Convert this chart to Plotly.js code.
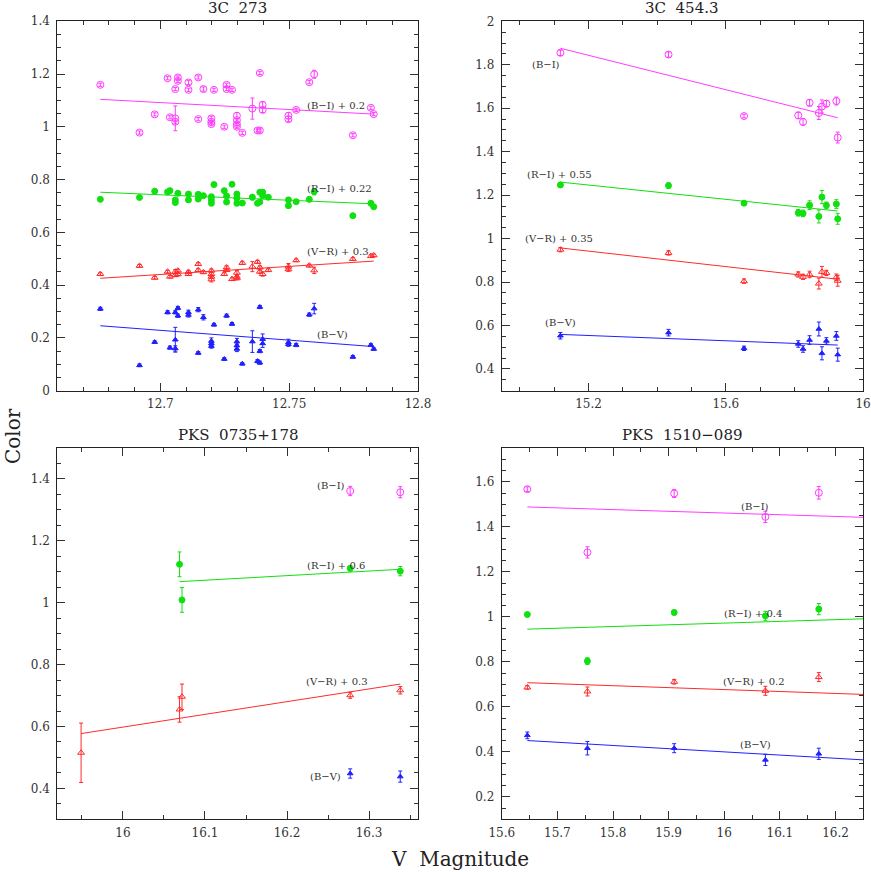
<!DOCTYPE html>
<html><head><meta charset="utf-8">
<script src="https://cdn.plot.ly/plotly-3.0.1.min.js"></script>
<style>html,body{margin:0;padding:0;background:#fff}</style>
</head><body><div id="chart" style="width:871px;height:872px"></div>
<script>
// ---------- Panel 1: 3C 273 ----------
const p1_BI_x = [12.6767,12.6919,12.6978,12.7028,12.7037,12.7058,12.7058,12.7058,12.7068,12.7068,12.7109,12.7109,12.7147,12.7147,12.7167,12.7198,12.7198,12.7198,12.7208,12.7248,12.7257,12.7257,12.7278,12.7297,12.7297,12.7297,12.7297,12.7318,12.7357,12.7377,12.7386,12.7386,12.7397,12.7397,12.7497,12.7497,12.7527,12.7578,12.7597,12.7747,12.7817,12.7828];
const p1_BI_y = [1.159,0.978,1.047,1.184,1.036,1.143,1.032,1.019,1.187,1.174,1.168,1.140,1.187,1.029,1.143,1.032,1.019,1.010,1.140,1.000,1.159,1.143,1.140,1.042,1.025,1.010,1.000,0.977,1.069,0.986,0.986,1.204,1.083,1.064,1.042,1.029,1.064,1.169,1.199,0.968,1.072,1.048];
const p1_BI_e = [0.006,0.006,0.006,0.006,0.006,0.006,0.047,0.006,0.006,0.006,0.008,0.006,0.006,0.006,0.008,0.008,0.006,0.006,0.006,0.006,0.006,0.006,0.006,0.012,0.006,0.006,0.006,0.006,0.040,0.006,0.006,0.006,0.012,0.010,0.012,0.010,0.006,0.006,0.015,0.006,0.006,0.006];
const p1_RI_x = [12.6767,12.6919,12.6978,12.7028,12.7037,12.7058,12.7058,12.7068,12.7109,12.7109,12.7147,12.7147,12.7167,12.7198,12.7198,12.7198,12.7208,12.7248,12.7257,12.7257,12.7278,12.7297,12.7297,12.7297,12.7318,12.7357,12.7377,12.7386,12.7386,12.7397,12.7397,12.7419,12.7497,12.7497,12.7527,12.7578,12.7597,12.7747,12.7817,12.7828];
const p1_RI_y = [0.725,0.732,0.756,0.753,0.758,0.723,0.713,0.748,0.745,0.723,0.744,0.726,0.739,0.735,0.723,0.710,0.781,0.758,0.738,0.715,0.782,0.745,0.729,0.710,0.711,0.733,0.710,0.715,0.752,0.752,0.739,0.733,0.723,0.701,0.716,0.725,0.754,0.663,0.710,0.697];
const p1_RI_e = [0.005,0.005,0.005,0.005,0.005,0.006,0.006,0.005,0.006,0.005,0.006,0.005,0.005,0.008,0.006,0.006,0.005,0.005,0.005,0.005,0.005,0.010,0.006,0.006,0.005,0.010,0.005,0.005,0.006,0.008,0.006,0.005,0.008,0.008,0.005,0.005,0.012,0.005,0.005,0.005];
const p1_VR_x = [12.6767,12.6919,12.6978,12.7028,12.7037,12.7058,12.7058,12.7068,12.7068,12.7109,12.7109,12.7147,12.7147,12.7167,12.7198,12.7198,12.7198,12.7198,12.7248,12.7257,12.7257,12.7278,12.7297,12.7297,12.7297,12.7318,12.7357,12.7377,12.7386,12.7386,12.7397,12.7419,12.7497,12.7497,12.7527,12.7578,12.7597,12.7747,12.7817,12.7828];
const p1_VR_y = [0.442,0.473,0.428,0.451,0.432,0.451,0.438,0.455,0.441,0.450,0.442,0.480,0.457,0.449,0.455,0.442,0.432,0.422,0.442,0.467,0.457,0.423,0.447,0.432,0.426,0.484,0.470,0.488,0.467,0.451,0.442,0.457,0.470,0.460,0.494,0.474,0.456,0.499,0.510,0.513];
const p1_VR_e = [0.005,0.005,0.005,0.005,0.005,0.008,0.006,0.005,0.005,0.005,0.005,0.005,0.005,0.005,0.006,0.006,0.006,0.010,0.005,0.006,0.005,0.005,0.008,0.006,0.006,0.005,0.019,0.005,0.006,0.006,0.008,0.005,0.012,0.008,0.005,0.005,0.012,0.005,0.005,0.005];
const p1_BV_x = [12.6767,12.6919,12.6978,12.7028,12.7037,12.7058,12.7058,12.7058,12.7068,12.7068,12.7109,12.7109,12.7147,12.7147,12.7167,12.7198,12.7198,12.7198,12.7208,12.7248,12.7257,12.7278,12.7297,12.7297,12.7297,12.7318,12.7357,12.7377,12.7386,12.7386,12.7386,12.7397,12.7397,12.7497,12.7497,12.7527,12.7578,12.7597,12.7747,12.7817,12.7828];
const p1_BV_y = [0.310,0.096,0.184,0.297,0.163,0.297,0.193,0.160,0.313,0.284,0.297,0.287,0.307,0.143,0.278,0.188,0.179,0.169,0.250,0.120,0.284,0.253,0.186,0.171,0.158,0.102,0.186,0.112,0.106,0.317,0.150,0.195,0.179,0.183,0.176,0.173,0.288,0.311,0.128,0.173,0.158];
const p1_BV_e = [0.006,0.005,0.005,0.006,0.006,0.006,0.047,0.010,0.006,0.006,0.008,0.008,0.008,0.005,0.010,0.012,0.008,0.008,0.005,0.005,0.006,0.005,0.012,0.010,0.010,0.005,0.041,0.006,0.006,0.006,0.006,0.020,0.015,0.012,0.008,0.006,0.006,0.020,0.005,0.005,0.005];
const p1_fit_x = [12.6767, 12.7828];
const p1_fit_BI = [1.104, 1.048];
const p1_fit_RI = [0.752, 0.708];
const p1_fit_VR = [0.426, 0.491];
const p1_fit_BV = [0.246, 0.167];

// ---------- Panel 2: 3C 454.3 ----------
const p2_x = [15.118,15.433,15.653,15.811,15.825,15.844,15.871,15.880,15.893,15.922,15.926];
const p2_BI_y = [1.855,1.847,1.564,1.567,1.537,1.625,1.578,1.608,1.621,1.633,1.465];
const p2_BI_e = [0.012,0.012,0.008,0.015,0.015,0.015,0.030,0.030,0.015,0.018,0.025];
const p2_RI_y = [1.247,1.244,1.163,1.119,1.116,1.154,1.102,1.191,1.153,1.159,1.091];
const p2_RI_e = [0.010,0.012,0.010,0.015,0.015,0.020,0.030,0.030,0.015,0.020,0.025];
const p2_VR_y = [0.949,0.934,0.804,0.835,0.824,0.835,0.793,0.847,0.842,0.822,0.806];
const p2_VR_e = [0.010,0.010,0.010,0.012,0.012,0.015,0.025,0.025,0.012,0.015,0.025];
const p2_BV_y = [0.553,0.567,0.495,0.515,0.492,0.533,0.584,0.472,0.529,0.552,0.466];
const p2_BV_e = [0.015,0.015,0.010,0.015,0.015,0.020,0.032,0.030,0.015,0.020,0.030];
const p2_fit_x = [15.118, 15.926];
const p2_fit_BI = [1.876, 1.556];
const p2_fit_RI = [1.260, 1.127];
const p2_fit_VR = [0.957, 0.813];
const p2_fit_BV = [0.559, 0.510];

// ---------- Panel 3: PKS 0735+178 ----------
const p3_BI_x = [16.277, 16.338];
const p3_BI_y = [1.361, 1.357];
const p3_BI_e = [0.015, 0.018];
const p3_RI_x = [16.069, 16.072, 16.277, 16.338];
const p3_RI_y = [1.124, 1.009, 1.111, 1.102];
const p3_RI_e = [0.040, 0.040, 0.008, 0.015];
const p3_VR_x = [15.949, 16.069, 16.072, 16.277, 16.338];
const p3_VR_y = [0.515, 0.655, 0.696, 0.701, 0.717];
const p3_VR_e = [0.096, 0.041, 0.041, 0.010, 0.012];
const p3_BV_x = [16.277, 16.338];
const p3_BV_y = [0.448, 0.438];
const p3_BV_e = [0.015, 0.018];
const p3_fit_RI_x = [16.069, 16.338];
const p3_fit_RI = [1.068, 1.108];
const p3_fit_VR_x = [15.949, 16.338];
const p3_fit_VR = [0.577, 0.737];

// ---------- Panel 4: PKS 1510-089 ----------
const p4_x = [15.646, 15.754, 15.910, 16.074, 16.170];
const p4_BI_y = [1.567, 1.286, 1.548, 1.444, 1.551];
const p4_BI_e = [0.010, 0.025, 0.018, 0.025, 0.028];
const p4_RI_y = [1.010, 0.803, 1.019, 1.004, 1.034];
const p4_RI_e = [0.008, 0.015, 0.010, 0.020, 0.025];
const p4_VR_y = [0.686, 0.668, 0.711, 0.671, 0.732];
const p4_VR_e = [0.008, 0.020, 0.010, 0.020, 0.020];
const p4_BV_y = [0.473, 0.416, 0.416, 0.364, 0.391];
const p4_BV_e = [0.015, 0.030, 0.020, 0.025, 0.025];
const p4_fit_x = [15.646, 16.25];
const p4_fit_BI = [1.488, 1.442];
const p4_fit_RI = [0.945, 0.991];
const p4_fit_VR = [0.707, 0.655];
const p4_fit_BV = [0.450, 0.364];

const titles = ["3C\u00a0\u00a0273", "3C\u00a0\u00a0454.3", "PKS\u00a0\u00a00735+178", "PKS\u00a0\u00a01510\u2212089"];

const C = {BI:'#ff3cff', RI:'#10e010', VR:'#ff2a2a', BV:'#2020ff'};
const SYM = {BI:'circle-open', RI:'circle', VR:'triangle-up-open', BV:'triangle-up'};
const SZ = {BI:7, RI:6, VR:6, BV:5};

const traces = [];
function pts(k, x, y, e, ax) {
  traces.push({type:'scatter', mode:'markers', x:x, y:y, xaxis:'x'+ax, yaxis:'y'+ax,
    marker:{symbol:SYM[k], size:SZ[k], color:C[k], line:{color:C[k], width:1}},
    error_y:{type:'data', array:e, visible:true, color:C[k], thickness:1, width:2},
    showlegend:false, hoverinfo:'skip', cliponaxis:false});
}
function fit(k, x, y, ax) {
  traces.push({type:'scatter', mode:'lines', x:x, y:y, xaxis:'x'+ax, yaxis:'y'+ax,
    line:{color:C[k], width:1}, showlegend:false, hoverinfo:'skip'});
}
// panel 1
fit('BI', p1_fit_x, p1_fit_BI, ''); fit('RI', p1_fit_x, p1_fit_RI, '');
fit('VR', p1_fit_x, p1_fit_VR, ''); fit('BV', p1_fit_x, p1_fit_BV, '');
pts('BI', p1_BI_x, p1_BI_y, p1_BI_e, ''); pts('RI', p1_RI_x, p1_RI_y, p1_RI_e, '');
pts('VR', p1_VR_x, p1_VR_y, p1_VR_e, ''); pts('BV', p1_BV_x, p1_BV_y, p1_BV_e, '');
// panel 2
fit('BI', p2_fit_x, p2_fit_BI, '2'); fit('RI', p2_fit_x, p2_fit_RI, '2');
fit('VR', p2_fit_x, p2_fit_VR, '2'); fit('BV', p2_fit_x, p2_fit_BV, '2');
pts('BI', p2_x, p2_BI_y, p2_BI_e, '2'); pts('RI', p2_x, p2_RI_y, p2_RI_e, '2');
pts('VR', p2_x, p2_VR_y, p2_VR_e, '2'); pts('BV', p2_x, p2_BV_y, p2_BV_e, '2');
// panel 3
fit('RI', p3_fit_RI_x, p3_fit_RI, '3'); fit('VR', p3_fit_VR_x, p3_fit_VR, '3');
pts('BI', p3_BI_x, p3_BI_y, p3_BI_e, '3'); pts('RI', p3_RI_x, p3_RI_y, p3_RI_e, '3');
pts('VR', p3_VR_x, p3_VR_y, p3_VR_e, '3'); pts('BV', p3_BV_x, p3_BV_y, p3_BV_e, '3');
// panel 4
fit('BI', p4_fit_x, p4_fit_BI, '4'); fit('RI', p4_fit_x, p4_fit_RI, '4');
fit('VR', p4_fit_x, p4_fit_VR, '4'); fit('BV', p4_fit_x, p4_fit_BV, '4');
pts('BI', p4_x, p4_BI_y, p4_BI_e, '4'); pts('RI', p4_x, p4_RI_y, p4_RI_e, '4');
pts('VR', p4_x, p4_VR_y, p4_VR_e, '4'); pts('BV', p4_x, p4_BV_y, p4_BV_e, '4');

const FONT = 'DejaVu Serif, Liberation Serif, serif';
function axis(dom, range, dtick, minor, anchor, isY) {
  return {domain:dom, range:range, dtick:dtick, tick0:0, anchor:anchor,
    showline:true, linecolor:'#222', linewidth:1, mirror:'ticks', ticks:'inside', ticklen:8,
    tickcolor:'#333', tickwidth:1, showgrid:false, zeroline:false,
    ticklabelstandoff: isY ? 4 : 2,
    tickfont:{family:FONT, size:12, color:'#333'},
    minor:{ticks:'inside', ticklen:4, dtick:minor, tick0:0, tickcolor:'#333', showgrid:false}};
}
const W = 871, H = 872;
const colL = [57.3/W, 418.3/W], colR = [501.7/W, 863.3/W];
const rowT = [1-390.7/H, 1-21.2/H], rowB = [1-819.3/H, 1-448/H];

const ann = [];
function lab(text, x, y, ax, xanchor) {
  ann.push({text:text, x:x, y:y, xref:'x'+ax, yref:'y'+ax, showarrow:false,
    xanchor:xanchor||'left', yanchor:'middle', font:{family:FONT, size:10, color:'#333'}});
}
lab('(B\u2212I) + 0.2', 12.7562, 1.079, '');
lab('(R\u2212I) + 0.22', 12.7562, 0.767, '');
lab('(V\u2212R) + 0.3', 12.7562, 0.527, '');
lab('(B\u2212V)', 12.7601, 0.211, '');
lab('(B\u2212I)', 15.029, 1.80, '2');
lab('(R\u2212I) + 0.55', 15.015, 1.296, '2');
lab('(V\u2212R) + 0.35', 15.010, 1.000, '2');
lab('(B\u2212V)', 15.068, 0.613, '2');
lab('(B\u2212I)', 16.2736, 1.378, '3', 'right');
lab('(R\u2212I) + 0.6', 16.222, 1.120, '3');
lab('(V\u2212R) + 0.3', 16.221, 0.744, '3');
lab('(B\u2212V)', 16.268, 0.438, '3', 'right');
lab('(B\u2212I)', 16.027, 1.488, '4');
lab('(R\u2212I) + 0.4', 15.996, 1.015, '4');
lab('(V\u2212R) + 0.2', 15.994, 0.711, '4');
lab('(B\u2212V)', 16.024, 0.431, '4');

const tpos = [[(colL[0]+colL[1])/2, 1-8/H], [(colR[0]+colR[1])/2, 1-8/H],
              [(colL[0]+colL[1])/2, 1-435/H], [(colR[0]+colR[1])/2, 1-435/H]];
titles.forEach((t,i)=>ann.push({text:t, x:tpos[i][0], y:tpos[i][1], xref:'paper', yref:'paper',
  showarrow:false, xanchor:'center', yanchor:'middle', font:{family:FONT, size:15, color:'#222'}}));
ann.push({text:'Color', x:13/W, y:1-436/H, xref:'paper', yref:'paper', textangle:-90,
  showarrow:false, xanchor:'center', yanchor:'middle', font:{family:FONT, size:20, color:'#222'}});
ann.push({text:'V\u00a0\u00a0Magnitude', x:460/W, y:1-859/H, xref:'paper', yref:'paper',
  showarrow:false, xanchor:'center', yanchor:'middle', font:{family:FONT, size:20, color:'#222'}});

const layout = {
  width:W, height:H, margin:{l:0, r:0, t:0, b:0}, paper_bgcolor:'#fff', plot_bgcolor:'#fff',
  showlegend:false,
  xaxis: axis(colL, [12.66, 12.8001], 0.05, 0.01, 'y'),
  yaxis: axis(rowT, [-0.0001, 1.4001], 0.2, 0.05, 'x', true),
  xaxis2: axis(colR, [14.947, 16.0005], 0.4, 0.1, 'y2'),
  yaxis2: axis(rowT, [0.3, 2.0005], 0.2, 0.05, 'x2', true),
  xaxis3: axis(colL, [15.92, 16.36], 0.1, 0.05, 'y3'),
  yaxis3: axis(rowB, [0.3, 1.5], 0.2, 0.05, 'x3', true),
  xaxis4: axis(colR, [15.5999, 16.25], 0.1, 0.05, 'y4'),
  yaxis4: axis(rowB, [0.1, 1.75], 0.2, 0.05, 'x4', true),
  annotations: ann
};
Plotly.newPlot('chart', traces, layout, {staticPlot:true, displayModeBar:false});
</script></body></html>
